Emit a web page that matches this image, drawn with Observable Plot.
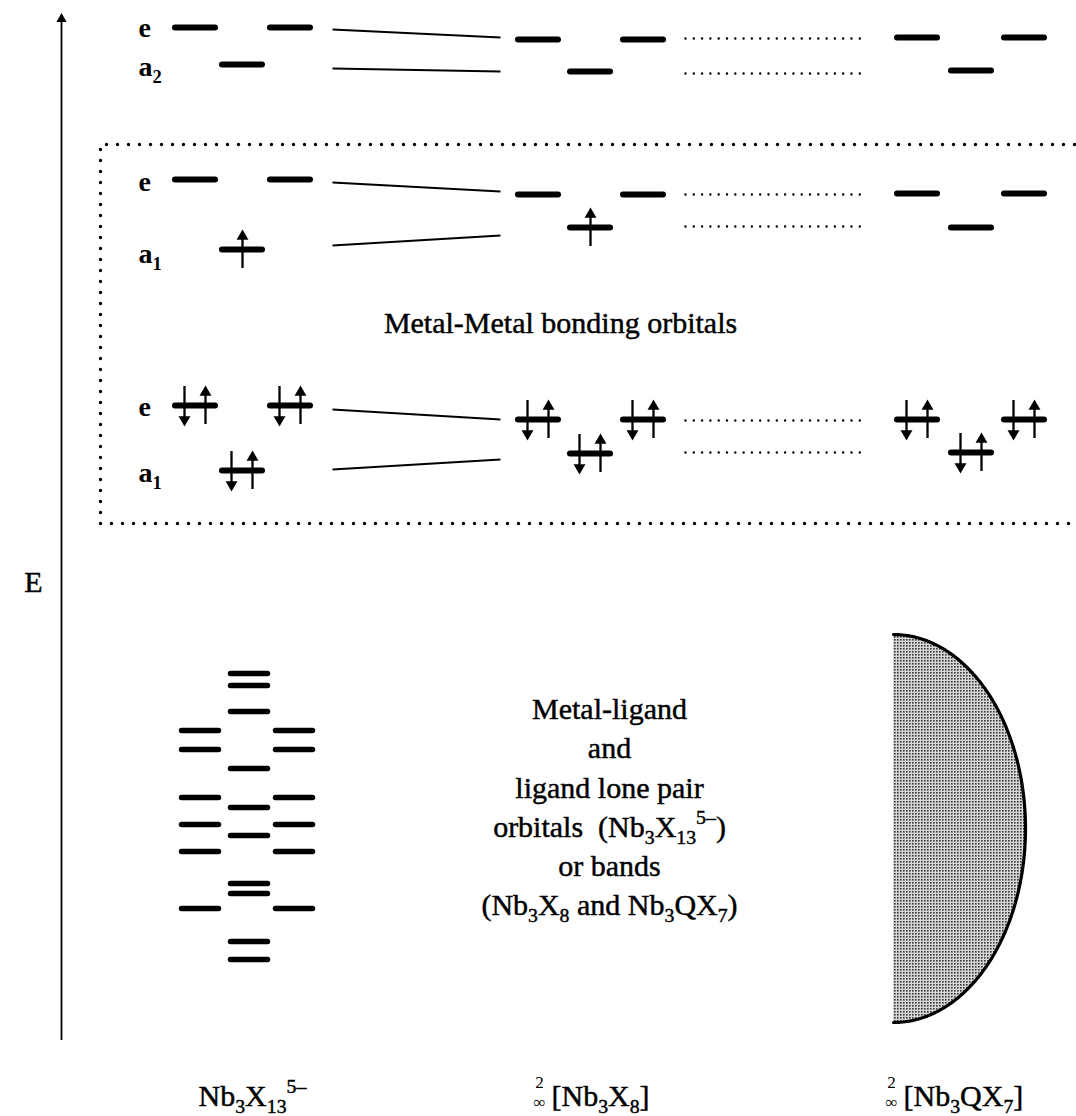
<!DOCTYPE html>
<html>
<head>
<meta charset="utf-8">
<script src="https://cdn.jsdelivr.net/npm/d3@7"></script>
<script src="https://cdn.jsdelivr.net/npm/@observablehq/plot@0.6"></script>
<style>
  html, body { margin: 0; padding: 0; background: #fff; }
</style>
</head>
<body>
<div id="chart"></div>
<script>
// ---------------- DATA (energies in arbitrary diagram units, higher = up) ----------------
const speciesNames = ["Nb3X13(5-)", "Nb3X8", "Nb3QX7"];
const orbitalSym   = ["e", "a2", "e", "a1", "e", "a1"];
const orbitalLabels = ["e", "a_2", "e", "a_1", "e", "a_1"];
const orbitalLabelE = [1080, 1041, 926, 854, 701, 635];

// horizontal slots of each species: left e component, a component, right e component
const eLeftX  = [195, 538, 917];
const aX      = [242, 590, 971];
const eRightX = [290, 643, 1024];

// metal-metal levels, one value per orbital (same order as orbitalSym)
const levelsNb3X13 = [1089, 1052, 937, 867, 711, 646];
const levelsNb3X8  = [1077, 1045, 922, 889, 697, 663];
const levelsNb3QX7 = [1079, 1046, 923, 889, 697, 664];

// electrons per orbital component
const electronsNb3X13 = [0, 0, 0, 1, 2, 2];
const electronsNb3X8  = [0, 0, 0, 1, 2, 2];
const electronsNb3QX7 = [0, 0, 0, 0, 2, 2];

// solid correlation lines Nb3X13 -> Nb3X8
const corrX      = [332, 500];
const corrLeftE  = [1087, 1048, 934, 871, 707, 647];
const corrRightE = [1079, 1045, 925, 881, 697, 657];

// dotted correlation lines Nb3X8 -> Nb3QX7
const dotX = [685, 866];
const dotE = [1078, 1043, 922, 890, 696, 664];

// metal-metal bonding box
const boxLeft = 100, boxTopE = 972, boxBottomE = 593;

// ligand levels of Nb3X13(5-)
const ligandX      = [200, 249, 294];
const ligandLeftE  = [386, 367, 319, 292, 265, 208];
const ligandMidE   = [443, 431, 405, 348, 309, 281, 233, 223, 175, 157];
const ligandRightE = [386, 367, 319, 292, 265, 208];

// band of Nb3QX7
const bandTopE = 482, bandBottomE = 94, bandLeftX = 893, bandWidth = 132;

// energy axis
const axisX = 61, axisBottomE = 76, axisTopE = 1103;

// texts
const middleLines = ["Metal-ligand", "and", "ligand lone pair", "orbitals\u00a0 (Nb_3X_{13}^{5\u2013})", "or bands", "(Nb_3X_8 and Nb_3QX_7)"];
const middleLinesE = [398, 359, 319, 280, 241, 202];
const bottomLabels = ["Nb_3X_{13}^{5\u2013}", "[Nb_3X_8]", "[Nb_3QX_7]"];
const bottomLabelX = [198, 551, 903];
const dimPrefix = ["2\n\u221e", "2\n\u221e"];
const dimPrefixX = [539, 891];

// ---------------- derived tables ----------------
const speciesLevels = [levelsNb3X13, levelsNb3X8, levelsNb3QX7];
const speciesElectrons = [electronsNb3X13, electronsNb3X8, electronsNb3QX7];
const levels = [];
speciesLevels.forEach((Es, s) => Es.forEach((E, i) => {
  const xs = orbitalSym[i] === "e" ? [eLeftX[s], eRightX[s]] : [aX[s]];
  xs.forEach(x => levels.push({species: speciesNames[s], orbital: orbitalSym[i], x, E, n: speciesElectrons[s][i]}));
}));
const ups = [], downs = [];
levels.forEach(l => {
  if (l.n === 1) ups.push({x: l.x, E: l.E});
  if (l.n === 2) { ups.push({x: l.x + 10, E: l.E}); downs.push({x: l.x - 11, E: l.E}); }
});
const ligands = [
  ...ligandLeftE.map(E => ({x: ligandX[0], E})),
  ...ligandMidE.map(E => ({x: ligandX[1], E})),
  ...ligandRightE.map(E => ({x: ligandX[2], E}))
];
const idx = d3.range(orbitalSym.length);
const bandC = (bandTopE + bandBottomE) / 2, bandR = (bandTopE - bandBottomE) / 2;
const bandPts = d3.range(0, 181).map(k => {
  const t = -Math.PI / 2 + k * Math.PI / 180;
  return {x: bandLeftX + bandWidth * Math.cos(t), E: bandC + bandR * Math.sin(t)};
});
const boxPts = [
  {x: 1085, E: boxTopE}, {x: boxLeft, E: boxTopE}, {x: boxLeft, E: boxBottomE}, {x: 1085, E: boxBottomE}
];

const ink = {fill: "black", stroke: "black", strokeWidth: 0.45};

const plot = Plot.plot({
  width: 1076,
  height: 1116,
  margin: 0,
  x: {domain: [0, 1076], axis: null},
  y: {domain: [0, 1116], axis: null},
  style: {background: "white", color: "black", fontFamily: "'Liberation Serif', 'Times New Roman', serif", overflow: "hidden"},
  marks: [
    // band
    Plot.areaX(bandPts, {y: "E", x1: bandLeftX, x2: "x", fill: "url(#stipple)"}),
    Plot.line(bandPts, {x: "x", y: "E", stroke: "black", strokeWidth: 3.2}),
    // energy axis
    Plot.ruleX([axisX], {y1: axisBottomE, y2: axisTopE - 6, stroke: "black", strokeWidth: 1.8}),
    Plot.dot([axisX], {x: d => d, y: axisTopE, symbol: "triangle", r: 3.8, fill: "black", stroke: "none", dy: 5.5}),
    Plot.text(["E"], {x: 33, y: 534, fontSize: 30, textAnchor: "middle", ...ink}),
    // metal-metal box
    Plot.line(boxPts, {x: "x", y: "E", stroke: "black", strokeWidth: 3.4, strokeDasharray: "0 11", strokeLinecap: "round"}),
    // correlation lines
    Plot.link(idx, {x1: () => corrX[0], x2: () => corrX[1], y1: i => corrLeftE[i], y2: i => corrRightE[i], stroke: "black", strokeWidth: 2.2}),
    Plot.link(idx, {x1: () => dotX[0], x2: () => dotX[1], y1: i => dotE[i], y2: i => dotE[i], stroke: "black", strokeWidth: 2.4, strokeDasharray: "0 8.3", strokeLinecap: "round"}),
    // levels
    Plot.ruleY(levels, {y: "E", x1: d => d.x - 20, x2: d => d.x + 20, stroke: "black", strokeWidth: 6, strokeLinecap: "round"}),
    Plot.ruleY(ligands, {y: "E", x1: d => d.x - 18.5, x2: d => d.x + 18.5, stroke: "black", strokeWidth: 5.5, strokeLinecap: "round"}),
    // electrons (spin up)
    Plot.ruleX(ups, {x: "x", y1: d => d.E - 19, y2: d => d.E + 12, stroke: "black", strokeWidth: 2.3}),
    Plot.dot(ups, {x: "x", y: d => d.E + 20, symbol: "triangle", r: 4.4, fill: "black", stroke: "none", dy: 6.8}),
    // electrons (spin down)
    Plot.ruleX(downs, {x: "x", y1: d => d.E + 19, y2: d => d.E - 13, stroke: "black", strokeWidth: 2.3}),
    Plot.dot(downs, {x: "x", y: d => d.E - 21, symbol: "triangle", rotate: 180, r: 4.4, fill: "black", stroke: "none", dy: -6.8}),
    // orbital symmetry labels
    Plot.text(idx, {x: 138, y: i => orbitalLabelE[i], text: i => orbitalLabels[i], fontSize: 28, fontWeight: "bold", fill: "black", textAnchor: "start", lineAnchor: "bottom"}),
    // region captions
    Plot.text(["Metal-Metal bonding orbitals"], {x: 560, y: 784, fontSize: 30, textAnchor: "middle", lineAnchor: "bottom", ...ink}),
    Plot.text(middleLines, {x: 609, y: (d, i) => middleLinesE[i], fontSize: 30, textAnchor: "middle", lineAnchor: "bottom", ...ink}),
    // compound labels
    Plot.text(bottomLabels, {x: (d, i) => bottomLabelX[i], y: 11, fontSize: 30, textAnchor: "start", lineAnchor: "bottom", ...ink}),
    Plot.text(dimPrefix, {x: (d, i) => dimPrefixX[i], y: 9, fontSize: 17, lineHeight: 1.15, fill: "black", textAnchor: "middle", lineAnchor: "bottom"})
  ]
});

// stipple pattern for the band
const ns = "http://www.w3.org/2000/svg";
const defs = document.createElementNS(ns, "defs");
defs.innerHTML = `<pattern id="stipple" width="3" height="3" patternUnits="userSpaceOnUse">
  <rect width="3" height="3" fill="#d6d6d6"></rect>
  <rect x="0" y="0" width="1.6" height="1.6" fill="#353535"></rect>
</pattern>`;
plot.insertBefore(defs, plot.firstChild);

// rich text: _x or _{xy} subscript, ^{..} superscript
plot.querySelectorAll("text").forEach(t => {
  const s = t.textContent;
  if (!/[_^]/.test(s)) return;
  const holder = t.closest("[font-size]");
  const fs = holder ? parseFloat(holder.getAttribute("font-size")) : 30;
  t.textContent = "";
  const re = /([_^])\{([^}]*)\}|([_^])(.)|([^_^]+)/g;
  let m, shift = 0;
  while ((m = re.exec(s))) {
    const ts = document.createElementNS(ns, "tspan");
    let target = 0, txt, small = false;
    if (m[5] !== undefined) { txt = m[5]; }
    else {
      const k = m[1] || m[3];
      txt = m[2] !== undefined ? m[2] : m[4];
      small = true;
      target = k === "_" ? fs * 0.26 : -fs * 0.42;
    }
    if (target - shift !== 0) ts.setAttribute("dy", (target - shift).toFixed(2));
    shift = target;
    if (small) ts.setAttribute("font-size", (fs * 0.66).toFixed(1));
    ts.textContent = txt;
    t.appendChild(ts);
  }
});

document.getElementById("chart").appendChild(plot);
</script>
</body>
</html>
